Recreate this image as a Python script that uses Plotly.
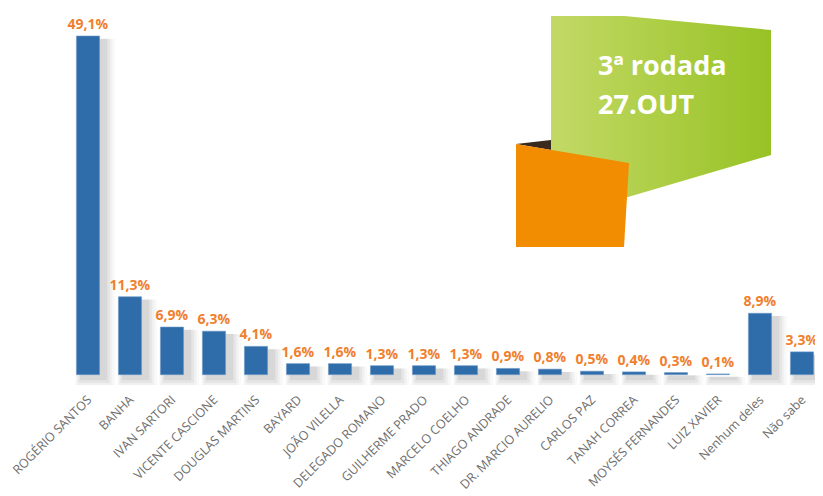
import plotly.graph_objects as go

categories = ["ROGÉRIO SANTOS", "BANHA", "IVAN SARTORI", "VICENTE CASCIONE",
              "DOUGLAS MARTINS", "BAYARD", "JOÃO VILELLA", "DELEGADO ROMANO",
              "GUILHERME PRADO", "MARCELO COELHO", "THIAGO ANDRADE",
              "DR. MARCIO AURELIO", "CARLOS PAZ", "TANAH CORREA",
              "MOYSÉS FERNANDES", "LUIZ XAVIER", "Nenhum deles", "Não sabe"]
values = [49.1, 11.3, 6.9, 6.3, 4.1, 1.6, 1.6, 1.3, 1.3, 1.3, 0.9, 0.8,
          0.5, 0.4, 0.3, 0.1, 8.9, 3.3]
labels = [f"{v:.1f}".replace(".", ",") + "%" for v in values]

OFF = 8  # page body margin
W, H = 823 - OFF, 496 - OFF
ML, MR, MT, MB = 67 - OFF, 0, 16 - OFF, 111
PW, PH = W - ML - MR, H - MT - MB

def px(x, y):
    # page pixel -> paper coords
    return (x - OFF - ML) / PW, (H - MB - (y - OFF)) / PH

def poly(pts):
    xs, ys = [], []
    for (x, y) in pts + [pts[0]]:
        a, b = px(x, y)
        xs.append(a)
        ys.append(b)
    return xs, ys

fig = go.Figure()

# soft shadows
for w, off, col, base in [(0.95, -0.30, "rgba(0,0,0,0.025)", -1.8),
                          (0.85, -0.27, "rgba(0,0,0,0.035)", -1.5),
                          (0.75, -0.23, "rgba(0,0,0,0.045)", -1.2),
                          (0.65, -0.19, "rgba(0,0,0,0.06)", -0.8)]:
    fig.add_trace(go.Bar(
        x=categories, y=[v - base - 0.4 for v in values], base=base,
        width=w, offset=off, marker=dict(color=col, line=dict(width=0)),
        hoverinfo="skip", showlegend=False))

fig.add_trace(go.Bar(
    x=categories, y=values, width=0.55, offset=-0.275,
    marker=dict(color="#2E6DAA", line=dict(color="#6B97C6", width=0.6)),
    text=labels, textposition="outside", cliponaxis=False,
    constraintext="none",
    textfont=dict(family="Open Sans", size=14, color="#F07F2F", weight="bold"),
    showlegend=False))

# decorative banner (overlay axes in paper units)
gx, gy = poly([(551, 9), (771, 30), (771, 155), (628, 197), (551, 197)])
fig.add_trace(go.Scatter(
    x=gx, y=gy, xaxis="x2", yaxis="y2", mode="lines", fill="toself",
    line=dict(width=0), hoverinfo="skip", showlegend=False,
    fillgradient=dict(type="horizontal",
                      colorscale=[[0, "#C3D966"], [1, "#97C224"]])))
dx, dy = poly([(516, 144), (551, 140), (551, 150)])
fig.add_trace(go.Scatter(
    x=dx, y=dy, xaxis="x2", yaxis="y2", mode="lines", fill="toself",
    fillcolor="#3A2A1E", line=dict(width=0), hoverinfo="skip",
    showlegend=False))
ox, oy = poly([(516, 144), (629, 163), (624, 247), (516, 247)])
fig.add_trace(go.Scatter(
    x=ox, y=oy, xaxis="x2", yaxis="y2", mode="lines", fill="toself",
    fillcolor="#F28C00", line=dict(width=0), hoverinfo="skip",
    showlegend=False))

ax, ay = px(596, 64)
bx, by = px(596, 104)
annotations = [
    dict(text="<b>3ª rodada</b>", x=ax, y=ay, xref="paper", yref="paper",
         xanchor="left", yanchor="middle", showarrow=False,
         font=dict(family="Open Sans", size=27, color="white")),
    dict(text="<b>27.OUT</b>", x=bx, y=by, xref="paper", yref="paper",
         xanchor="left", yanchor="middle", showarrow=False,
         font=dict(family="Open Sans", size=27, color="white")),
]

fig.update_layout(
    width=W, height=H, barmode="overlay",
    margin=dict(l=ML, r=MR, t=MT, b=MB, autoexpand=False),
    paper_bgcolor="white", plot_bgcolor="white",
    annotations=annotations,
    xaxis=dict(tickangle=-45, showgrid=False, showline=False, ticks="",
               range=[-0.5, 17.5], automargin=False, ticklabelstandoff=4,
               tickfont=dict(family="Open Sans", size=12.5, color="#6E6E6E")),
    yaxis=dict(range=[-1.5, 52], visible=False, automargin=False),
    xaxis2=dict(range=[0, 1], overlaying="x", visible=False,
                automargin=False, fixedrange=True),
    yaxis2=dict(range=[0, 1], overlaying="y", visible=False,
                automargin=False, fixedrange=True),
)

fig.write_html("out.html")
